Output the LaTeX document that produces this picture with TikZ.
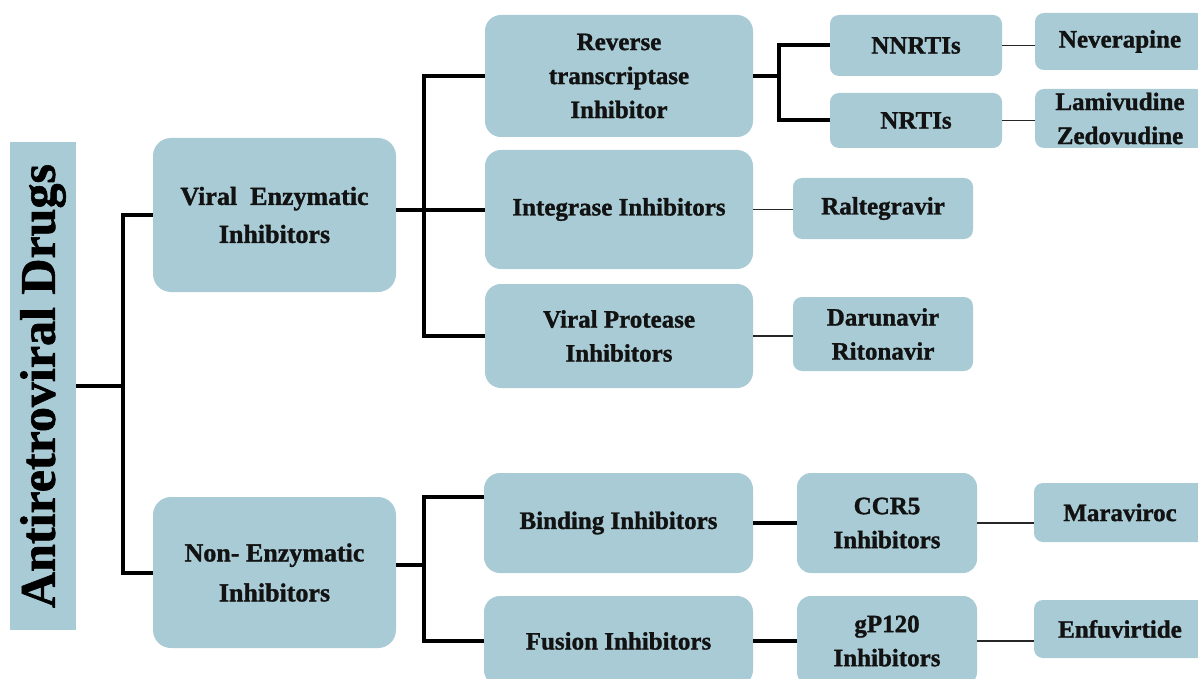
\documentclass[tikz,border=0pt]{standalone}
\usepackage{fontspec}
\setmainfont{Liberation Serif}[BoldFeatures={FakeBold=1.2}]
\definecolor{boxfill}{RGB}{168,203,213}
\definecolor{txt}{RGB}{18,18,18}
\begin{document}
\begin{tikzpicture}[x=1pt,y=-1pt,
  box/.style={draw=none, fill=boxfill, rounded corners=#1, inner sep=0pt, align=center, text=txt,
    font=\bfseries\fontsize{25}{34}\selectfont},
  box/.default=10pt,
  conn/.style={line width=4pt, draw=black},
  thinconn/.style={line width=1.8pt, draw=black!85}]
\useasboundingbox (0,0) rectangle (1198,679);
\fill[white] (0,0) rectangle (1198,679);

% root
\node[box=0pt, minimum width=488pt, minimum height=66pt, rotate=90, text=black,
  font=\bfseries\fontsize{50}{60}\selectfont] (root) at (43,386) {Antiretroviral Drugs};

% level 1
\node[box=18pt, minimum width=243pt, minimum height=154pt, font=\bfseries\fontsize{26}{38}\selectfont]
  (vei) at (274.5,215) {Viral\ \ Enzymatic\\Inhibitors};
\node[box=18pt, minimum width=243pt, minimum height=151pt, font=\bfseries\fontsize{26}{40}\selectfont]
  (nei) at (274.5,572.5) {Non- Enzymatic\\Inhibitors};

% level 2 (enzymatic)
\node[box=16pt, minimum width=268pt, minimum height=122pt] (rti) at (619,76) {Reverse\\transcriptase\\Inhibitor};
\node[box=16pt, minimum width=268pt, minimum height=119pt] (ii) at (619,209.5) {Integrase Inhibitors};
\node[box=16pt, minimum width=268pt, minimum height=104pt] (vpi) at (619,336) {Viral Protease\\Inhibitors};

% level 3 (enzymatic)
\node[box=9pt, minimum width=172pt, minimum height=61pt] (nnrti) at (916,45.5) {NNRTIs};
\node[box=9pt, minimum width=172pt, minimum height=55pt] (nrti) at (916,120.5) {NRTIs};
\node[box=9pt, minimum width=180pt, minimum height=61pt] (ral) at (883,208.5) {Raltegravir};
\node[box=9pt, minimum width=180pt, minimum height=74pt] (dar) at (883,334) {Darunavir\\Ritonavir};

% level 4 (enzymatic)
\node[box=9pt, minimum width=170pt, minimum height=57pt] (nev) at (1120,41.5) {Neverapine};
\node[box=9pt, minimum width=170pt, minimum height=59pt] (lam) at (1120,118.5) {Lamivudine\\Zedovudine};

% level 2 (non-enzymatic)
\node[box=16pt, minimum width=269pt, minimum height=100pt] (bind) at (618.5,523) {Binding Inhibitors};
\node[box=16pt, minimum width=269pt, minimum height=90pt] (fus) at (618.5,641) {Fusion Inhibitors};

% level 3 (non-enzymatic)
\node[box=14pt, minimum width=180pt, minimum height=100pt] (ccr5) at (887,523) {CCR5\\Inhibitors};
\node[box=14pt, minimum width=180pt, minimum height=90pt] (gp) at (887,641) {gP120\\Inhibitors};

% level 4 (non-enzymatic)
\node[box=9pt, minimum width=172pt, minimum height=59pt] (mar) at (1120,512.5) {Maraviroc};
\node[box=9pt, minimum width=172pt, minimum height=58pt] (enf) at (1120,629) {Enfuvirtide};

% connectors
\coordinate (j1) at (123,386);
\draw[conn] (root) -- (j1);
\draw[conn] (vei.west) -| (j1) |- (nei.west);

\coordinate (j2) at (424,210);
\draw[conn] (vei.east |- j2) -- (ii.west |- j2);
\draw[conn] (rti.west) -| (j2) |- (vpi.west);

\coordinate (j3) at (779,76);
\draw[conn] (rti.east) -- (j3);
\draw[conn] (nnrti.west) -| (j3) |- (nrti.west);

\draw[thinconn] (nnrti.east) -- (nnrti.east -| nev.west);
\draw[thinconn] (nrti.east) -- (nrti.east -| lam.west);
\draw[thinconn] (ii.east) -- (ii.east -| ral.west);
\draw[thinconn] (vpi.east) -- (vpi.east -| dar.west);

\coordinate (j4) at (424,565);
\coordinate (b1) at (424,497);
\coordinate (b2) at (424,641);
\draw[conn] (nei.east |- j4) -- (j4);
\draw[conn] (bind.west |- b1) -- (b1) -- (b2) -- (fus.west |- b2);

\draw[conn] (bind.east) -- (ccr5.west);
\draw[conn] (fus.east) -- (gp.west);
\draw[thinconn] (ccr5.east) -- (ccr5.east -| mar.west);
\draw[thinconn] (gp.east) -- (gp.east -| enf.west);
\end{tikzpicture}
\end{document}
